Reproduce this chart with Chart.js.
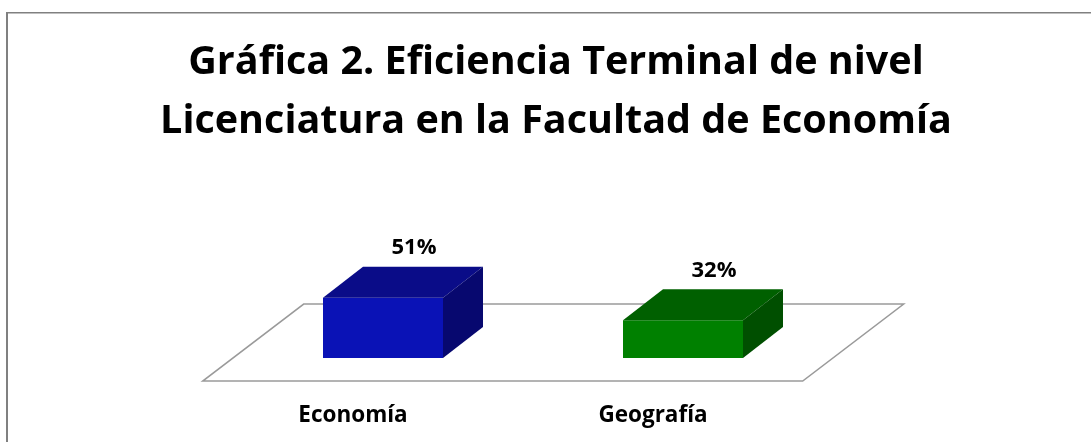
<!DOCTYPE html>
<html>
<head>
<meta charset="utf-8">
<script src="https://cdn.jsdelivr.net/npm/chart.js@4.4.1/dist/chart.umd.min.js"></script>
<style>
    html, body { margin: 0; padding: 0; background: #fff; }
    #wrap { width: 1091px; height: 442px; position: relative; }
</style>
</head>
<body>
<div id="wrap"><canvas id="grafica"></canvas></div>
<script>
const categories = ['Economía', 'Geografía'];
const values = [51, 32];
const valueLabels = ['51%', '32%'];
const frontColors = ['#0a12b6', '#008000'];
const topColors = ['#0a0c88', '#006000'];
const sideColors = ['#07086f', '#004f00'];

// depth of the bars and of the floor, in px
const barDepth = { x: 40, y: -31 };
const floorDepth = { x: 101, y: -77 };
const frontShift = 0.3; // bars stand 30% into the floor

const box3d = {
    id: 'box3d',
    beforeDraw(chart) {
        const ctx = chart.ctx;
        ctx.save();
        ctx.fillStyle = '#ffffff';
        ctx.fillRect(0, 0, chart.width, chart.height);
        ctx.fillStyle = '#808080';
        ctx.fillRect(6, 12, 2, chart.height);
        ctx.fillRect(6, 12, chart.width, 1.5);
        ctx.restore();
    },
    beforeDatasetsDraw(chart) {
        const { ctx, chartArea } = chart;
        const fx = floorDepth.x * frontShift;
        const fy = floorDepth.y * frontShift;
        const x0 = chartArea.left - fx, x1 = chartArea.right - fx;
        const y0 = chartArea.bottom - fy;
        ctx.save();
        ctx.strokeStyle = '#9a9a9a';
        ctx.lineWidth = 1.5;
        ctx.beginPath();
        ctx.moveTo(x0, y0);
        ctx.lineTo(x1, y0);
        ctx.lineTo(x1 + floorDepth.x, y0 + floorDepth.y);
        ctx.lineTo(x0 + floorDepth.x, y0 + floorDepth.y);
        ctx.closePath();
        ctx.stroke();
        ctx.restore();
    },
    afterDatasetsDraw(chart) {
        const ctx = chart.ctx;
        const meta = chart.getDatasetMeta(0);
        ctx.save();
        meta.data.forEach(function (bar, i) {
            const l = bar.x - bar.width / 2;
            const r = bar.x + bar.width / 2;
            const t = bar.y;
            const b = bar.base;
            // top face
            ctx.fillStyle = topColors[i];
            ctx.beginPath();
            ctx.moveTo(l, t);
            ctx.lineTo(r, t);
            ctx.lineTo(r + barDepth.x, t + barDepth.y);
            ctx.lineTo(l + barDepth.x, t + barDepth.y);
            ctx.closePath();
            ctx.fill();
            // side face
            ctx.fillStyle = sideColors[i];
            ctx.beginPath();
            ctx.moveTo(r, t);
            ctx.lineTo(r + barDepth.x, t + barDepth.y);
            ctx.lineTo(r + barDepth.x, b + barDepth.y);
            ctx.lineTo(r, b);
            ctx.closePath();
            ctx.fill();
            // value label
            ctx.fillStyle = '#000000';
            ctx.font = 'bold 22px "Open Sans"';
            ctx.textAlign = 'center';
            ctx.textBaseline = 'middle';
            ctx.fillText(valueLabels[i], bar.x + 31, t + barDepth.y - 19);
        });
        ctx.restore();
    }
};

const ctx = document.getElementById('grafica').getContext('2d');
new Chart(ctx, {
    type: 'bar',
    data: {
        labels: categories,
        datasets: [{
            data: values,
            backgroundColor: frontColors,
            borderWidth: 0,
            barPercentage: 1,
            categoryPercentage: 0.4
        }]
    },
    options: {
        responsive: true,
        maintainAspectRatio: false,
        animation: false,
        layout: { padding: { left: 21, right: 0, top: 0, bottom: 0 } },
        plugins: {
            legend: { display: false },
            tooltip: { enabled: false },
            title: {
                display: true,
                text: ['Gráfica 2. Eficiencia Terminal de nivel', 'Licenciatura en la Facultad de Economía'],
                color: '#000000',
                font: { family: 'Open Sans', size: 39.5, weight: 'bold', lineHeight: 1.494 },
                padding: { top: 33, bottom: 89 }
            }
        },
        scales: {
            x: {
                position: 'bottom',
                grid: { display: false, drawTicks: false },
                border: { display: false },
                ticks: {
                    color: '#000000',
                    font: { family: 'Open Sans', size: 22.5, weight: 'bold' },
                    padding: 44,
                    labelOffset: -30
                },
                afterFit: function (scale) { scale.height = 84; }
            },
            y: {
                position: 'left',
                min: 0,
                max: 100,
                grid: { display: false },
                border: { display: false },
                ticks: { display: false },
                afterFit: function (scale) { scale.width = 212; }
            },
            yRight: {
                type: 'linear',
                position: 'right',
                grid: { display: false },
                border: { display: false },
                ticks: { display: false },
                afterFit: function (scale) { scale.width = 258; }
            }
        }
    },
    plugins: [box3d]
});
</script>
</body>
</html>
